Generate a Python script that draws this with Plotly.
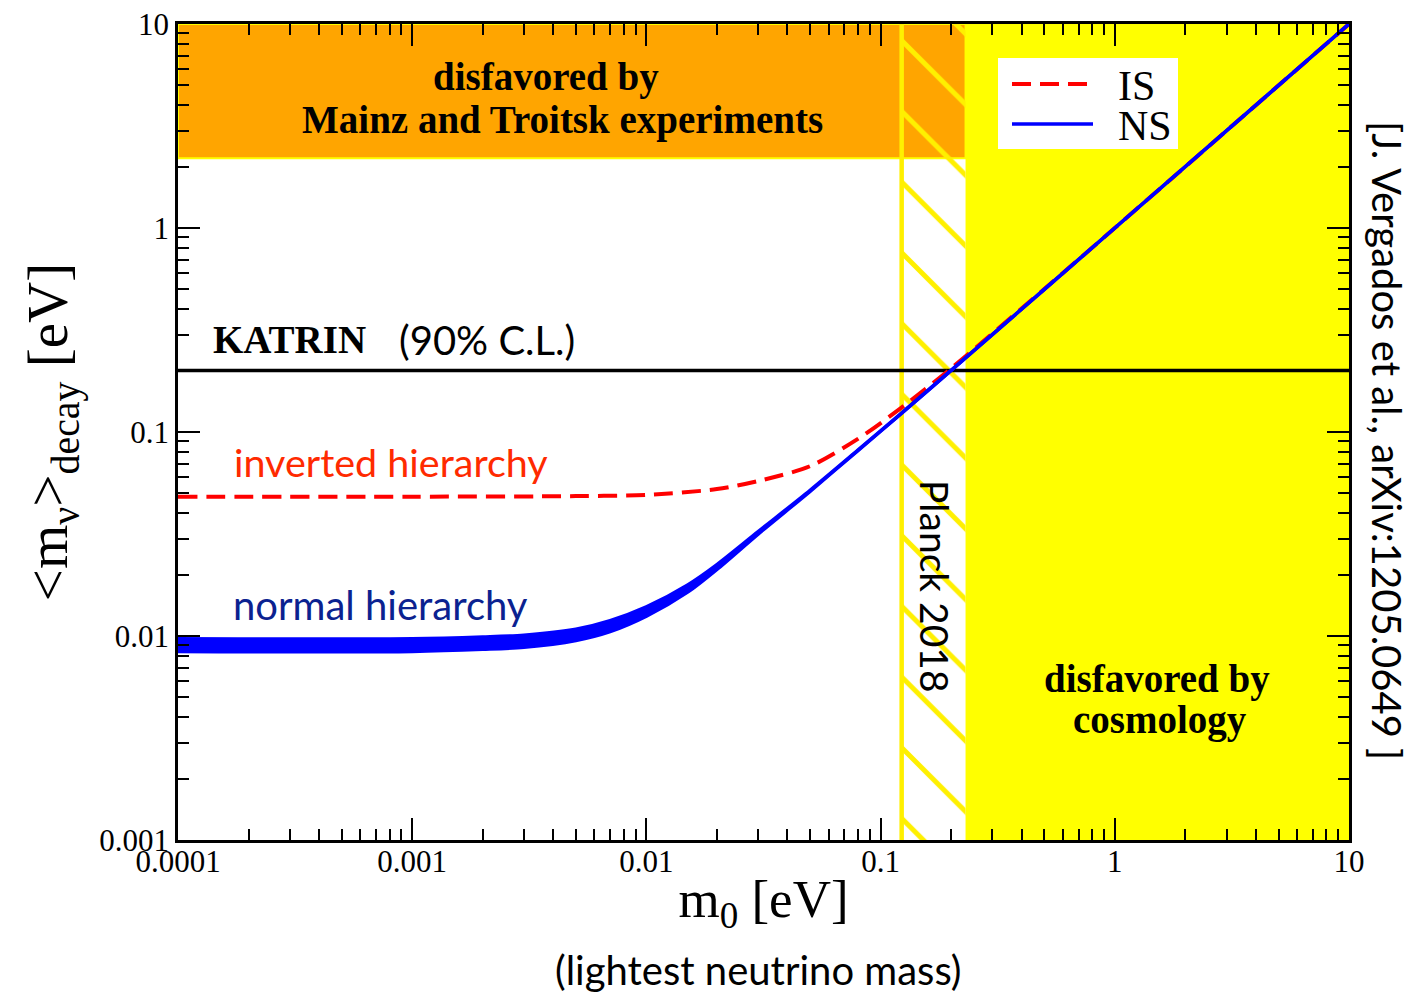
import plotly.graph_objects as go

# ---------------- data ----------------
x_ticks = [1e-4, 1e-3, 1e-2, 1e-1, 1, 10]
x_ticktext = ["0.0001", "0.001", "0.01", "0.1", "1", "10"]
y_ticks = [1e-3, 1e-2, 1e-1, 1, 10]
y_ticktext = ["0.001", "0.01", "0.1", "1", "10"]

# inverted hierarchy (IS)
is_m0 = [1e-4, 1e-3, 5e-3, 0.01, 0.02, 0.03, 0.05, 0.08, 0.12, 0.2, 0.5, 1, 10]
is_mb = [0.0482, 0.0482, 0.0485, 0.0492, 0.0525, 0.0575, 0.068, 0.0925, 0.129, 0.205, 0.502, 1.0, 10.0]

# normal hierarchy (NS) band
ns_m0 = [1e-4, 1e-3, 2e-3, 3e-3, 5e-3, 7e-3, 0.01, 0.015, 0.02, 0.03, 0.05, 0.08, 0.12, 0.2, 0.5, 1, 10]
ns_upper = [0.0097, 0.0097, 0.0099, 0.0101, 0.0108, 0.0119, 0.0139, 0.0178, 0.0224, 0.0325, 0.0518, 0.0815, 0.121, 0.2005, 0.5, 1.0, 10.0]
ns_lower = [0.0084, 0.0084, 0.0086, 0.0088, 0.0095, 0.0105, 0.0125, 0.0164, 0.0212, 0.0316, 0.0512, 0.0811, 0.1205, 0.2002, 0.5, 1.0, 10.0]

katrin_limit = 0.2          # eV
mainz_troitsk_limit = 2.2   # eV
planck_m0 = [0.123, 0.2305]  # hatched band
cosmo_m0 = 0.2305            # disfavored by cosmology beyond
x_range = [1e-4, 10]
y_range = [1e-3, 10]

legend_names = ["IS", "NS"]

SERIF = "Liberation Serif"
SANS = "Lato"

# page body has an 8px margin: compensate so the plot sits where the reference has it
OFF = 8
W, H = 1413, 996
L, R, T, B = 178, 1349, 24, 840   # plot-area edges in window pixels

fig = go.Figure()

# orange Mainz/Troitsk band
fig.add_trace(go.Scatter(
    x=[x_range[0], cosmo_m0, cosmo_m0, x_range[0], x_range[0]],
    y=[mainz_troitsk_limit, mainz_troitsk_limit, y_range[1], y_range[1], mainz_troitsk_limit],
    fill="toself", fillcolor="#FFA500", mode="lines",
    line=dict(color="#FFFF00", width=2), showlegend=False, hoverinfo="skip"))

# cosmology disfavored region
fig.add_trace(go.Scatter(
    x=[cosmo_m0, x_range[1], x_range[1], cosmo_m0, cosmo_m0],
    y=[y_range[0], y_range[0], y_range[1], y_range[1], y_range[0]],
    fill="toself", fillcolor="#FFFF00", mode="lines",
    line=dict(color="#FFFF00", width=0), showlegend=False, hoverinfo="skip"))

# Planck 2018 hatched band
fig.add_trace(go.Scatter(
    x=[planck_m0[0], planck_m0[1], planck_m0[1], planck_m0[0], planck_m0[0]],
    y=[y_range[0], y_range[0], y_range[1], y_range[1], y_range[0]],
    fill="toself", fillcolor="rgba(0,0,0,0)", mode="none",
    fillpattern=dict(shape="\\", fgcolor="#FFF000", bgcolor="rgba(0,0,0,0)",
                     fgopacity=1, size=50, solidity=0.1),
    showlegend=False, hoverinfo="skip"))
fig.add_trace(go.Scatter(
    x=[planck_m0[0], planck_m0[0]], y=y_range, mode="lines",
    line=dict(color="#FFF000", width=4.5), showlegend=False, hoverinfo="skip"))

# KATRIN line
fig.add_trace(go.Scatter(
    x=x_range, y=[katrin_limit, katrin_limit], mode="lines",
    line=dict(color="black", width=3.5), showlegend=False, hoverinfo="skip"))

# IS curve
fig.add_trace(go.Scatter(
    x=is_m0, y=is_mb, mode="lines", name=legend_names[0], showlegend=False,
    line=dict(color="#FF0000", width=4, dash="19px,9px", shape="spline", smoothing=0.8)))

# NS band
fig.add_trace(go.Scatter(
    x=ns_m0, y=ns_lower, mode="lines", showlegend=False,
    line=dict(color="#0000FF", width=3.5, shape="spline", smoothing=0.8)))
fig.add_trace(go.Scatter(
    x=ns_m0, y=ns_upper, mode="lines", name=legend_names[1], fill="tonexty", showlegend=False,
    fillcolor="#0000FF", line=dict(color="#0000FF", width=3.5, shape="spline", smoothing=0.8)))

# ---------------- helpers: window pixels -> paper coords ----------------
def px(xp):
    return (xp - L) / (R - L)
def py(yp):
    return (B - yp) / (B - T)

def note(text, x, y, size, family, color="black", angle=0, bold=False, xanchor="center"):
    if bold:
        text = "<b>" + text + "</b>"
    fig.add_annotation(text=text, x=px(x), y=py(y), xref="paper", yref="paper",
                       showarrow=False, textangle=angle, xanchor=xanchor, yanchor="middle",
                       font=dict(family=family, size=size, color=color))

note("disfavored by", 546, 77, 39, SERIF, bold=True)
note("Mainz and Troitsk experiments", 562, 120, 39, SERIF, bold=True)
note("disfavored by", 1157, 679, 39, SERIF, bold=True)
note("cosmology", 1160, 720, 39, SERIF, bold=True)
note("KATRIN", 289, 340, 39, SERIF, bold=True)
note("(90% C.L.)", 487, 340, 40, SANS)
note("inverted hierarchy", 391, 461, 39.5, SANS, color="#FF2A00")
note("normal hierarchy", 380, 605, 40, SANS, color="#0B2290")
note("Planck 2018", 935, 586, 39, SANS, angle=90)
note("[J. Vergados et al., arXiv:1205.0649 ]", 1387, 440, 40, SANS, angle=90)
note("(lightest neutrino mass)", 758, 970, 40, SANS)

# ---------------- legend box (drawn) ----------------
fig.add_shape(type="rect", xref="paper", yref="paper",
              x0=px(998), x1=px(1178), y0=py(149), y1=py(58),
              fillcolor="white", line=dict(width=0), layer="above")
fig.add_shape(type="line", xref="paper", yref="paper",
              x0=px(1012), x1=px(1088), y0=py(84), y1=py(84),
              line=dict(color="#FF0000", width=4, dash="19px,9px"), layer="above")
fig.add_shape(type="line", xref="paper", yref="paper",
              x0=px(1012), x1=px(1093), y0=py(124), y1=py(124),
              line=dict(color="#0000FF", width=3.5), layer="above")
note(legend_names[0], 1116, 86, 42, SERIF, xanchor="left")
note(legend_names[1], 1116, 126, 42, SERIF, xanchor="left")

minor_x = [m * 10.0 ** k for k in range(-4, 1) for m in range(2, 10)]
minor_y = [m * 10.0 ** k for k in range(-3, 1) for m in range(2, 10)]

fig.update_xaxes(
    type="log", range=[-4, 1], tickmode="array", tickvals=x_ticks, ticktext=x_ticktext,
    ticks="inside", ticklen=22, tickwidth=2, tickcolor="black",
    minor=dict(tickmode="array", tickvals=minor_x, ticks="inside", ticklen=11,
               tickwidth=1.5, tickcolor="black", showgrid=False),
    showline=True, linecolor="black", linewidth=2.5, mirror="ticks",
    showgrid=False, zeroline=False, automargin=False, ticklabelstandoff=-8,
    ticklabeloverflow="allow",
    tickfont=dict(family=SERIF, size=31, color="black"),
    title=dict(text="m<sub>0</sub> [eV]", font=dict(family=SERIF, size=53, color="black"),
               standoff=2))
fig.update_yaxes(
    type="log", range=[-3, 1], tickmode="array", tickvals=y_ticks, ticktext=y_ticktext,
    ticks="inside", ticklen=22, tickwidth=2, tickcolor="black",
    minor=dict(tickmode="array", tickvals=minor_y, ticks="inside", ticklen=11,
               tickwidth=1.5, tickcolor="black", showgrid=False),
    showline=True, linecolor="black", linewidth=2.5, mirror="ticks",
    showgrid=False, zeroline=False, automargin=False,
    ticklabeloverflow="allow",
    tickfont=dict(family=SERIF, size=31, color="black"),
    title=dict(text="&lt;m<sub>ν</sub>&gt;<sub>decay</sub> [eV]",
               font=dict(family=SERIF, size=57, color="black"), standoff=14))

fig.update_layout(
    width=W, height=H,
    margin=dict(l=L - OFF, r=W - R + OFF, t=T - OFF, b=H - B + OFF, autoexpand=False),
    paper_bgcolor="white", plot_bgcolor="white",
    showlegend=False,
)

fig.write_html("out.html")
